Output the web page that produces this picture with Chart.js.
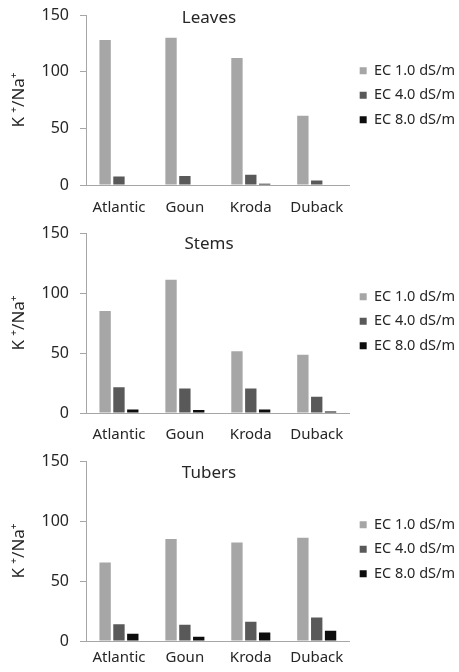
<!DOCTYPE html>
<html>
<head>
<meta charset="utf-8">
<script src="https://cdn.jsdelivr.net/npm/chart.js@4.4.1/dist/chart.umd.min.js"></script>
<style>
  body { margin: 0; background: #fff; }
  .panel { position: absolute; left: 0; width: 459px; height: 224px; }
</style>
</head>
<body>
<div class="panel" style="top:0px"><canvas id="leaves" width="459" height="224"></canvas></div>
<div class="panel" style="top:224px"><canvas id="stems" width="459" height="224"></canvas></div>
<div class="panel" style="top:448px"><canvas id="tubers" width="459" height="224"></canvas></div>
<script>
// data
const cultivars = ['Atlantic', 'Goun', 'Kroda', 'Duback'];
const seriesNames = ['EC 1.0 dS/m', 'EC 4.0 dS/m', 'EC 8.0 dS/m'];
const seriesColors = ['#a6a6a6', '#595959', '#0d0d0d'];
const yTicks = [0, 50, 100, 150];

const leavesEC1 = [128, 130, 112, 61];
const leavesEC4 = [7.5, 8, 9, 4];
const leavesEC8 = [0, 0, 1, 0];

const stemsEC1 = [85, 111, 51.5, 48.5];
const stemsEC4 = [21.5, 20.5, 20.5, 13.5];
const stemsEC8 = [3, 2.5, 3, 1.2];

const tubersEC1 = [65.5, 85, 82, 86];
const tubersEC4 = [14, 13.5, 16, 19.5];
const tubersEC8 = [6, 3.5, 7, 8.5];

Chart.defaults.font.family = "'Noto Sans', sans-serif";
Chart.defaults.font.size = 14;
Chart.defaults.color = '#262626';

// panel title sits inside the plot area
const innerTitle = {
  id: 'innerTitle',
  afterDraw(chart, args, opts) {
    const ctx = chart.ctx;
    ctx.save();
    ctx.font = "17px 'Noto Sans', sans-serif";
    ctx.fillStyle = '#262626';
    ctx.textAlign = 'center';
    ctx.textBaseline = 'middle';
    ctx.fillText(opts.text, opts.x, chart.chartArea.top + opts.dy);
    ctx.restore();
  }
};

const buildPanel = (elementId, title, values, top, bottom, labelPad, titleDy, legendGap) => {
  const ctx = document.getElementById(elementId).getContext('2d');
  new Chart(ctx, {
    type: 'bar',
    data: {
      labels: cultivars,
      datasets: values.map((v, i) => ({
        label: seriesNames[i],
        data: v,
        backgroundColor: seriesColors[i],
        categoryPercentage: 0.63,
        barPercentage: 0.82
      }))
    },
    options: {
      responsive: false,
      animation: false,
      layout: { padding: { top: top, left: 0, right: -6, bottom: 0 } },
      plugins: {
        legend: {
          position: 'right',
          fullSize: false,
          align: 'start',
          // empty title only used as a spacer above the items
          title: { display: true, text: '', font: { size: 10, lineHeight: 1 }, padding: { top: legendGap, bottom: 0 } },
          labels: { boxWidth: 7, boxHeight: 7, padding: 10, color: '#262626', font: { size: 14.5 } }
        },
        tooltip: { enabled: false },
        innerTitle: { text: title, x: 209, dy: titleDy }
      },
      scales: {
        x: {
          grid: { display: false, drawTicks: false },
          border: { color: '#a6a6a6' },
          ticks: { padding: labelPad, font: { size: 15 } },
          afterFit: (scale) => { scale.height = 224 - bottom; }
        },
        y: {
          min: 0,
          max: 150,
          afterBuildTicks: (scale) => { scale.ticks = yTicks.map(v => ({ value: v })); },
          grid: { drawOnChartArea: false, drawTicks: true, tickLength: 6, color: '#a6a6a6' },
          border: { color: '#a6a6a6' },
          ticks: { padding: 11, font: { size: 16 } },
          title: { display: true, text: 'K \u207A/Na\u207A', font: { size: 17 }, padding: { top: 9, bottom: 0 } },
          afterFit: (scale) => {
            scale.width = 86;
            scale.paddingTop = 0;
            scale.paddingBottom = 0;
          }
        }
      }
    },
    plugins: [innerTitle]
  });
};

buildPanel('leaves', 'Leaves', [leavesEC1, leavesEC4, leavesEC8], 15, 185, 14, 3, 28.5);
buildPanel('stems', 'Stems', [stemsEC1, stemsEC4, stemsEC8], 9, 189, 13, 11, 36.5);
buildPanel('tubers', 'Tubers', [tubersEC1, tubersEC4, tubersEC8], 13, 193, 8, 12, 36.5);
</script>
</body>
</html>
